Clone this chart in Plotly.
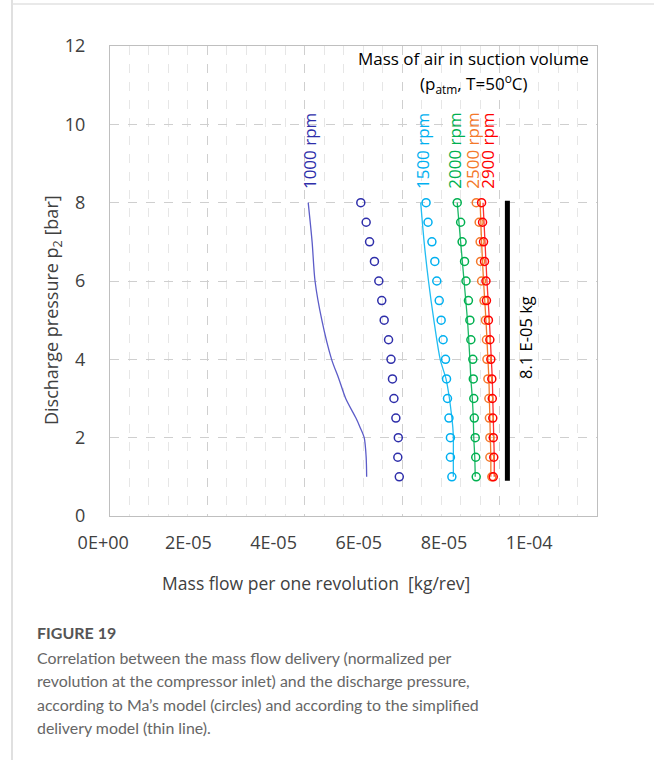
import plotly.graph_objects as go

# ---------------- data ----------------
pressure_bar = [8, 7.5, 7, 6.5, 6, 5.5, 5, 4.5, 4, 3.5, 3, 2.5, 2, 1.5, 1]

# Ma's model (circles), kg/rev
ma_1000 = [51.5e-6, 52.6e-6, 53.3e-6, 54.3e-6, 55.2e-6, 55.8e-6, 56.3e-6, 57.2e-6,
           57.7e-6, 58.0e-6, 58.3e-6, 58.7e-6, 59.2e-6, 59.1e-6, 59.4e-6]
ma_1500 = [64.9e-6, 65.3e-6, 66.1e-6, 66.7e-6, 67.1e-6, 67.6e-6, 68.0e-6, 68.4e-6,
           68.9e-6, 69.1e-6, 69.3e-6, 69.6e-6, 69.9e-6, 69.9e-6, 70.2e-6]
ma_2000 = [71.3e-6, 72.0e-6, 72.3e-6, 72.8e-6, 73.1e-6, 73.6e-6, 73.9e-6, 74.1e-6,
           74.5e-6, 74.6e-6, 74.7e-6, 74.8e-6, 75.0e-6, 75.1e-6, 75.2e-6]
ma_2500 = [75.2e-6, 75.8e-6, 76.0e-6, 76.1e-6, 76.3e-6, 76.8e-6, 77.1e-6, 77.3e-6,
           77.4e-6, 77.6e-6, 77.8e-6, 77.9e-6, 78.0e-6, 78.0e-6, 78.4e-6]
ma_2900 = [76.3e-6, 76.5e-6, 76.7e-6, 76.9e-6, 77.2e-6, 77.3e-6, 77.7e-6, 78.0e-6,
           78.2e-6, 78.4e-6, 78.5e-6, 78.6e-6, 78.7e-6, 78.8e-6, 78.7e-6]

# simplified delivery model (thin lines)
line_pressure = [8, 7, 6, 5, 4, 3.5, 3, 2.5, 2.25, 2, 1.5, 1]
sm_1000 = [40.7e-6, 41.5e-6, 42.1e-6, 43.5e-6, 45.5e-6, 47.0e-6, 48.4e-6, 50.5e-6,
           51.4e-6, 52.2e-6, 52.6e-6, 52.7e-6]
sm_1500 = [63.8e-6, 64.5e-6, 65.4e-6, 66.5e-6, 67.8e-6, 69.0e-6, 69.7e-6, 70.2e-6,
           70.4e-6, 70.5e-6, 70.5e-6, 70.5e-6]
sm_2000 = [71.3e-6, 72.0e-6, 72.7e-6, 73.4e-6, 73.9e-6, 74.1e-6, 74.4e-6, 74.6e-6,
           74.65e-6, 74.7e-6, 74.9e-6, 75.0e-6]
sm_2500 = [76.0e-6, 76.3e-6, 76.7e-6, 77.2e-6, 77.6e-6, 77.8e-6, 77.9e-6, 78.0e-6,
           78.05e-6, 78.1e-6, 78.2e-6, 78.2e-6]
sm_2900 = [76.6e-6, 77.0e-6, 77.4e-6, 77.9e-6, 78.3e-6, 78.5e-6, 78.6e-6, 78.7e-6,
           78.75e-6, 78.8e-6, 78.9e-6, 78.9e-6]

speed_labels = ["1000 rpm", "1500 rpm", "2000 rpm", "2500 rpm", "2900 rpm"]
speed_label_x = [41.1e-6, 64.3e-6, 70.8e-6, 74.5e-6, 77.6e-6]
colors = ["#2E2EAA", "#00B0F0", "#00B050", "#F4792B", "#FF0000"]
line_colors = ["#5C5CC8", "#22BDF2", "#1DB866", "#F4792B", "#FF3030"]

ref_mass = [81.6e-6, 81.6e-6]
ref_pressure = [0.9, 8.05]
ref_label = "8.1 E-05 kg"

x_tick_vals = [0, 2e-5, 4e-5, 6e-5, 8e-5, 1e-4]
x_tick_text = ["0E+00", "2E-05", "4E-05", "6E-05", "8E-05", "1E-04"]
y_tick_vals = [0, 2, 4, 6, 8, 10, 12]

x_title = "Mass flow per one revolution \u00a0[kg/rev]"
y_title = "Discharge pressure p<sub>2</sub> [bar]"
box_line1 = "Mass of air in suction volume"
box_line2 = "(p<sub>atm</sub>, T=50<sup>o</sup>C)"
caption_title = "FIGURE 19"
caption_lines = [
    "Correlation between the mass flow delivery (normalized per",
    "revolution at the compressor inlet) and the discharge pressure,",
    "according to Ma\u2019s model (circles) and according to the simplified",
    "delivery model (thin line).",
]

# ---------------- figure ----------------
W, H = 654, 760
ML, MR, MT, MB = 60, 57, 46, 244
PW = W - ML - MR
PH = H - MT - MB


def px(xp):
    return (xp - ML) / PW


def py(yp):
    return (H - MB - yp) / PH


FONT = "Open Sans"
TXT = "#404040"

fig = go.Figure()

model_lines = [sm_1000, sm_1500, sm_2000, sm_2500, sm_2900]
for vals, c in zip(model_lines, line_colors):
    fig.add_trace(go.Scatter(x=vals, y=line_pressure, mode="lines",
                             line=dict(color=c, width=1.3, shape="spline", smoothing=0.8),
                             showlegend=False, hoverinfo="skip"))

ma_series = [ma_1000, ma_1500, ma_2000, ma_2500, ma_2900]
for vals, c in zip(ma_series, colors):
    fig.add_trace(go.Scatter(x=vals, y=pressure_bar, mode="markers",
                             marker=dict(symbol="circle-open", size=8, color=c,
                                         line=dict(width=1.5, color=c)),
                             showlegend=False))

fig.add_trace(go.Scatter(x=ref_mass, y=ref_pressure, mode="lines",
                         line=dict(color="black", width=5), showlegend=False,
                         hoverinfo="skip"))

# axis carrying the tick labels / title at the positions seen in the reference
fig.add_trace(go.Scatter(x=[None], y=[None], xaxis="x2", yaxis="y2",
                         showlegend=False, hoverinfo="skip"))

fig.update_layout(
    width=W, height=H,
    margin=dict(l=ML, r=MR, t=MT, b=MB),
    paper_bgcolor="white",
    plot_bgcolor="rgba(0,0,0,0)",
    font=dict(family=FONT, color=TXT, size=17),
    xaxis=dict(domain=[px(110), 1], range=[0, 1e-4], showticklabels=False,
               showline=True, mirror=True, linecolor="#BFBFBF", linewidth=1.2,
               zeroline=False, ticks="",
               showgrid=True, tick0=0, dtick=2e-5, gridcolor="#CFCFCF",
               griddash="dash", gridwidth=1,
               minor=dict(dtick=4e-6, showgrid=True, gridcolor="#E6E6E6",
                          griddash="dash", gridwidth=1)),
    yaxis=dict(domain=[0, 1], range=[0, 12], tickvals=y_tick_vals,
               showline=True, mirror=True, linecolor="#BFBFBF", linewidth=1.2,
               zeroline=False, ticks="", ticklabelstandoff=20,
               tickfont=dict(size=18, color=TXT),
               showgrid=True, gridcolor="#CFCFCF", griddash="dash", gridwidth=1),
    xaxis2=dict(domain=[px(103.2), px(529.2)], range=[0, 1e-4], anchor="y2",
                tickvals=x_tick_vals, ticktext=x_tick_text, showgrid=False,
                showline=False, zeroline=False, ticks="", ticklabelstandoff=14,
                tickfont=dict(size=18, color=TXT),
                title=dict(text=x_title, font=dict(size=17.5, color=TXT), standoff=24)),
    yaxis2=dict(domain=[0, 1], range=[0, 12], anchor="x2", visible=False),
)

ann = []
ann.append(dict(text=y_title, xref="paper", yref="paper", x=px(53), y=py(310),
                textangle=-90, showarrow=False, font=dict(size=18, color=TXT),
                xanchor="center", yanchor="middle"))
for lab, lx, c in zip(speed_labels, speed_label_x, colors):
    ann.append(dict(text=lab, x=lx, y=8.3, xref="x", yref="y", textangle=-90,
                    showarrow=False, font=dict(size=17, color=c),
                    xanchor="center", yanchor="bottom"))
ann.append(dict(text=ref_label, x=85.2e-6, y=4.57, xref="x", yref="y", textangle=-90,
                showarrow=False, font=dict(size=16.5, color="black"),
                xanchor="center", yanchor="middle"))
ann.append(dict(text=box_line1, x=74.7e-6, y=11.67, xref="x", yref="y",
                showarrow=False, font=dict(size=17, color="black"),
                xanchor="center", yanchor="middle"))
ann.append(dict(text=box_line2, x=74.7e-6, y=11.05, xref="x", yref="y",
                showarrow=False, font=dict(size=17, color="black"),
                xanchor="center", yanchor="middle"))

ann.append(dict(text="<b>" + caption_title + "</b>", xref="paper", yref="paper",
                x=px(35), y=py(632), xanchor="left", yanchor="middle",
                showarrow=False, font=dict(family="Lato", size=16, color="#555555")))
for i, line in enumerate(caption_lines):
    ann.append(dict(text=line, xref="paper", yref="paper",
                    x=px(35), y=py(657 + i * 23.5), xanchor="left", yanchor="middle",
                    showarrow=False, font=dict(family="Lato", size=15.9, color="#666666")))

fig.update_layout(annotations=ann)

fig.update_layout(shapes=[
    dict(type="line", xref="paper", yref="paper", x0=px(12), x1=px(12),
         y0=py(0), y1=py(760), line=dict(color="#D6D6D6", width=1.5)),
    dict(type="line", xref="paper", yref="paper", x0=px(12), x1=px(654),
         y0=py(4), y1=py(4), line=dict(color="#E2E2E2", width=1.5)),
])

fig.write_html("out.html")
